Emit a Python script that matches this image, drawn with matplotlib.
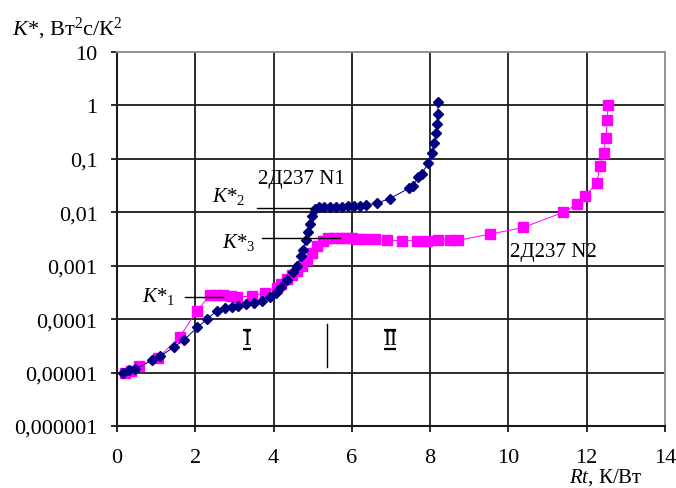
import matplotlib
matplotlib.use("Agg")
import matplotlib.pyplot as plt
import matplotlib.transforms as mtransforms
from matplotlib.ticker import FixedLocator, NullLocator

plt.rcParams['font.family'] = ['Liberation Serif', 'DejaVu Serif', 'DejaVu Sans']
plt.rcParams['mathtext.fontset'] = 'custom'
plt.rcParams['mathtext.rm'] = 'Liberation Serif'
plt.rcParams['mathtext.it'] = 'Liberation Serif:italic'

# ===============================
# данные
# ===============================
n1_rt = [0.15, 0.3, 0.45, 0.9, 1.1, 1.45, 1.7, 2.05, 2.3, 2.55, 2.75, 2.95,
         3.1, 3.3, 3.5, 3.7, 3.9, 4.05, 4.2, 4.35, 4.5, 4.6, 4.7, 4.75, 4.82,
         4.88, 4.93, 4.97, 5.05, 5.15, 5.3, 5.45, 5.6, 5.75, 5.9, 6.05, 6.2,
         6.35, 6.65, 6.97, 7.45, 7.55, 7.7, 7.78, 7.95, 8.05, 8.1, 8.15, 8.17,
         8.19, 8.21]
n1_k = [1.0e-5, 1.1e-5, 1.15e-5, 1.7e-5, 2.0e-5, 3.0e-5, 4.0e-5, 7.0e-5,
        1.0e-4, 1.45e-4, 1.6e-4, 1.7e-4, 1.8e-4, 1.9e-4, 2.0e-4, 2.2e-4,
        2.6e-4, 3.1e-4, 4.0e-4, 5.5e-4, 7.6e-4, 1.0e-3, 1.5e-3, 2.0e-3,
        3.0e-3, 4.3e-3, 6.0e-3, 8.6e-3, 1.15e-2, 1.25e-2, 1.25e-2, 1.25e-2,
        1.25e-2, 1.25e-2, 1.3e-2, 1.3e-2, 1.3e-2, 1.35e-2, 1.5e-2, 1.8e-2,
        2.8e-2, 3.1e-2, 4.5e-2, 5.2e-2, 8.3e-2, 0.13, 0.2, 0.3, 0.45, 0.7,
        1.14]

n2_rt = [0.2, 0.35, 0.55, 1.05, 1.6, 2.04, 2.38, 2.55, 2.71, 2.9, 3.06, 3.44,
         3.78, 4.08, 4.2, 4.34, 4.47, 4.59, 4.72, 4.85, 4.98, 5.1, 5.25, 5.4,
         5.55, 5.7, 5.85, 6.0, 6.15, 6.3, 6.6, 6.89, 7.27, 7.66, 7.91, 8.21,
         8.51, 8.72, 9.53, 10.38, 11.4, 11.74, 11.96, 12.26, 12.34, 12.44,
         12.49, 12.53, 12.54]
n2_k = [1.0e-5, 1.05e-5, 1.3e-5, 1.9e-5, 4.6e-5, 1.43e-4, 2.8e-4, 2.8e-4,
        2.8e-4, 2.7e-4, 2.6e-4, 2.7e-4, 3.1e-4, 3.8e-4, 4.6e-4, 5.6e-4,
        6.6e-4, 7.9e-4, 1.0e-3, 1.3e-3, 1.7e-3, 2.3e-3, 2.9e-3, 3.3e-3,
        3.3e-3, 3.3e-3, 3.3e-3, 3.25e-3, 3.2e-3, 3.2e-3, 3.1e-3, 3.0e-3,
        2.95e-3, 2.95e-3, 2.95e-3, 3.0e-3, 3.0e-3, 3.0e-3, 3.9e-3, 5.2e-3,
        1.0e-2, 1.4e-2, 2.0e-2, 3.6e-2, 7.4e-2, 0.13, 0.25, 0.53, 1.0]

x_ticks = [0, 2, 4, 6, 8, 10, 12, 14]
y_ticks = [1e-6, 1e-5, 1e-4, 1e-3, 1e-2, 1e-1, 1, 10]
y_labels = ["0,000001", "0,00001", "0,0001", "0,001", "0,01", "0,1", "1", "10"]

# выноски K*1, K*2, K*3: (x0, x1, y)
leaders = {
    "1": (1.74, 2.7, 2.6e-4),
    "2": (3.58, 5.0, 1.2e-2),
    "3": (3.7, 5.7, 3.3e-3),
}
boundary_rt = 5.37
boundary_k = (1.26e-5, 8.1e-5)

# области I и II: (x, y, текст, ширина черты)
regions = [(3.32, 4.2e-5, "I", 6), (6.97, 4.2e-5, "II", 9)]

# ===============================
# рисунок
# ===============================
fig = plt.figure(figsize=(6.76, 4.89), dpi=100)
ax = fig.add_axes([0.1731, 0.1268, 0.8106, 0.7648])

ax.set_yscale("log")
ax.set_xlim(x_ticks[0], x_ticks[-1])
ax.set_ylim(y_ticks[0], y_ticks[-1])

# сетка обычными линиями
grid_c = '#1a1a1a'
for xt in x_ticks[1:-1]:
    ax.plot([xt, xt], [y_ticks[0], y_ticks[-1]], color=grid_c, lw=1.3,
            zorder=2, clip_on=False)
for yt in y_ticks[1:-1]:
    ax.plot([x_ticks[0], x_ticks[-1]], [yt, yt], color=grid_c, lw=1.3,
            zorder=2, clip_on=False)

ax.plot(n1_rt, n1_k, color='#000080', lw=0.7, marker='D', ms=5.5,
        mec='#000080', mfc='#000080', zorder=4)
ax.plot(n2_rt, n2_k, color='#FF00FF', lw=0.7, marker='s', ms=6.5,
        mec='#FF00FF', mfc='#FF00FF', zorder=3)

ax.xaxis.set_major_locator(FixedLocator(x_ticks))
ax.yaxis.set_major_locator(FixedLocator(y_ticks))
ax.set_yticklabels(y_labels)
ax.yaxis.set_minor_locator(NullLocator())
ax.xaxis.set_minor_locator(NullLocator())

ax.tick_params(axis='both', which='major', direction='out', length=4,
               width=1.3, color=grid_c, labelsize=16)
ax.tick_params(axis='y', pad=10)
ax.tick_params(axis='x', pad=12)

for side in ['left', 'bottom']:
    ax.spines[side].set_color(grid_c)
    ax.spines[side].set_linewidth(1.5)
for side in ['top', 'right']:
    ax.spines[side].set_color('#909090')
    ax.spines[side].set_linewidth(1.4)

# выноски
for key, (x0, x1, y) in leaders.items():
    ax.plot([x0, x1], [y, y], color='black', lw=1.0, zorder=5)
ax.plot([boundary_rt, boundary_rt], boundary_k, color='black', lw=1.0)

ax.text(0.64, 2.2e-4, r'$K$*$_{1}$', fontsize=15, ha='left', va='baseline')
ax.text(2.43, 1.62e-2, r'$K$*$_{2}$', fontsize=15, ha='left', va='baseline')
ax.text(2.68, 2.2e-3, r'$K$*$_{3}$', fontsize=15, ha='left', va='baseline')

ax.text(3.6, 3.5e-2, "2Д237 N1", fontsize=15, ha='left', va='baseline')
ax.text(10.04, 1.5e-3, "2Д237 N2", fontsize=15, ha='left', va='baseline')

# римские цифры с чертами сверху и снизу
for x, y, s, w in regions:
    ax.text(x, y, s, fontsize=15, ha='center', va='center')
    for dy in (6.8, -6.8):
        off = mtransforms.ScaledTranslation(0, dy / 72, fig.dpi_scale_trans)
        ax.plot([x], [y], marker='_', ms=w, mew=1.6, color='black',
                transform=ax.transData + off)

# подписи осей
fig.text(0.018, 0.928, r'$K$*, Вт$^{2}$с/К$^{2}$', fontsize=16,
         ha='left', va='baseline')
fig.text(0.95, 0.014, r'$Rt$, К/Вт', fontsize=15, ha='right', va='baseline')

fig.savefig("out.png", dpi=100)
